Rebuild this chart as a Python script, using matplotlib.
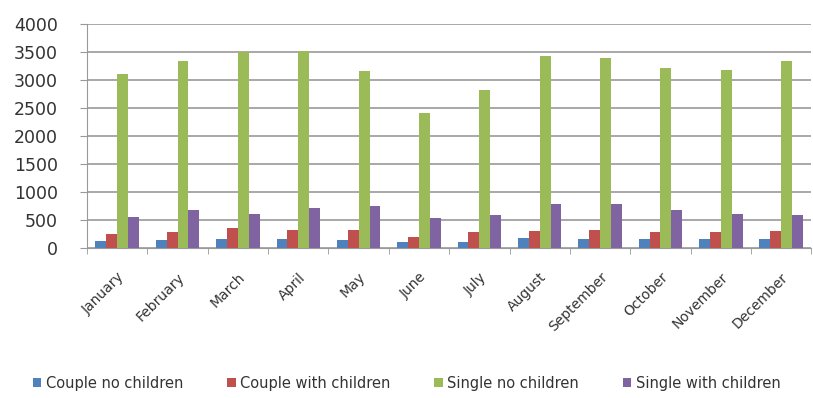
import numpy as np
import matplotlib.pyplot as plt

months = ["January", "February", "March", "April", "May", "June",
          "July", "August", "September", "October", "November", "December"]
couple_no_children = [130, 145, 165, 165, 145, 100, 100, 180, 165, 155, 155, 165]
couple_with_children = [250, 285, 355, 320, 320, 200, 280, 310, 320, 285, 290, 300]
single_no_children = [3110, 3340, 3505, 3520, 3150, 2405, 2820, 3420, 3385, 3220, 3170, 3340]
single_with_children = [560, 680, 600, 720, 750, 540, 580, 790, 790, 680, 615, 590]

series = [
    ("Couple no children", couple_no_children, "#4F81BD"),
    ("Couple with children", couple_with_children, "#C0504D"),
    ("Single no children", single_no_children, "#9BBB59"),
    ("Single with children", single_with_children, "#8064A2"),
]

fig = plt.figure(figsize=(8.13, 3.98), dpi=100)
ax = fig.add_axes([0.107, 0.377, 0.891, 0.563])

x = np.arange(len(months))
w = 0.18
for i, (name, vals, col) in enumerate(series):
    ax.bar(x + (i - 1.5) * w, vals, width=w, color=col, label=name, zorder=3)

ax.set_xlim(-0.5, len(months) - 0.5)
ax.set_ylim(0, 4000)
ax.set_yticks(np.arange(0, 4001, 500))
ax.yaxis.grid(True, color="#999999", linewidth=1.2, zorder=0)

# category boundary ticks on the x axis
ax.set_xticks(np.arange(-0.5, len(months), 1.0), minor=True)
ax.set_xticks(x)
ax.set_xticklabels(months, rotation=45, ha="right", rotation_mode="anchor",
                   fontsize=10, color="#333333")
ax.tick_params(axis="x", which="major", length=0, pad=16)
ax.tick_params(axis="x", which="minor", length=4, color="#999999")
ax.tick_params(axis="y", length=5, color="#999999", labelsize=12.5,
               labelcolor="#333333", pad=16)

for side in ["top", "right"]:
    ax.spines[side].set_visible(False)
ax.spines["left"].set_color("#999999")
ax.spines["bottom"].set_color("#999999")

fig.legend(loc="lower center", bbox_to_anchor=(0.5, -0.015), ncol=4, frameon=False,
           fontsize=10.5, handlelength=0.6, handleheight=0.6, handletextpad=0.3,
           columnspacing=3.0, labelcolor="#333333")

fig.savefig("out.png", dpi=100)
